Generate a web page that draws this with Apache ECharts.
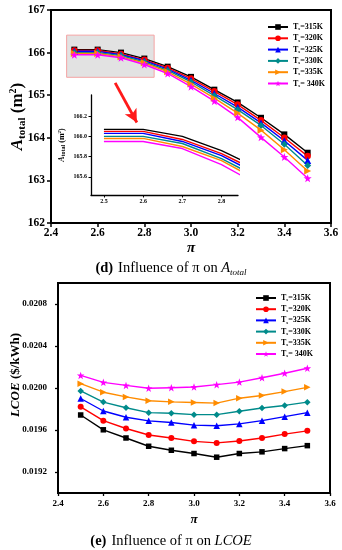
<!DOCTYPE html>
<html><head><meta charset="utf-8">
<script src="https://cdn.jsdelivr.net/npm/echarts@6/dist/echarts.min.js"></script>
<style>html,body{margin:0;padding:0;background:#fff}#c{width:342px;height:550px}</style>
</head><body><div id="c"></div>
<script>
// ---- data ----
const piValues = [2.5, 2.6, 2.7, 2.8, 2.9, 3.0, 3.1, 3.2, 3.3, 3.4, 3.5];
const seriesNames = ['Ts=315K', 'Ts=320K', 'Ts=325K', 'Ts=330K', 'Ts=335K', 'Ts= 340K'];
const legendSuffix = ['=315K', '=320K', '=325K', '=330K', '=335K', '= 340K'];
// A_total (m2)
const A315 = [166.07, 166.07, 166.00, 165.86, 165.67, 165.43, 165.13, 164.83, 164.47, 164.08, 163.65];
const A320 = [166.05, 166.05, 165.97, 165.83, 165.64, 165.39, 165.09, 164.78, 164.41, 164.00, 163.57];
const A325 = [166.03, 166.03, 165.95, 165.81, 165.61, 165.35, 165.04, 164.72, 164.35, 163.93, 163.47];
const A330 = [166.00, 166.00, 165.93, 165.78, 165.58, 165.31, 164.99, 164.66, 164.29, 163.85, 163.35];
const A335 = [165.98, 165.98, 165.90, 165.76, 165.55, 165.26, 164.93, 164.58, 164.18, 163.72, 163.22];
const A340 = [165.95, 165.95, 165.88, 165.72, 165.51, 165.20, 164.86, 164.48, 164.01, 163.55, 163.05];
// LCOE ($/kWh)
const L315 = [0.019743, 0.019602, 0.019524, 0.019445, 0.019407, 0.019376, 0.019341, 0.019376, 0.019392, 0.019423, 0.019451];
const L320 = [0.019821, 0.019689, 0.019614, 0.019552, 0.019524, 0.019492, 0.019477, 0.019495, 0.019524, 0.019561, 0.019592];
const L325 = [0.019900, 0.019781, 0.019721, 0.019687, 0.019671, 0.019646, 0.019640, 0.019658, 0.019689, 0.019727, 0.019765];
const L330 = [0.019972, 0.019866, 0.019812, 0.019765, 0.019759, 0.019746, 0.019746, 0.019778, 0.019809, 0.019834, 0.019865];
const L335 = [0.020041, 0.019960, 0.019915, 0.019878, 0.019868, 0.019862, 0.019856, 0.019903, 0.019928, 0.019966, 0.020006];
const L340 = [0.020120, 0.020054, 0.020025, 0.019997, 0.020003, 0.020009, 0.020032, 0.020056, 0.020098, 0.020141, 0.020188];
// ticks
const insetXTicks = [2.5, 2.6, 2.7, 2.8];
const insetYTicks = [165.6, 165.8, 166.0, 166.2];
const botYTicks = [0.0192, 0.0196, 0.0200, 0.0204, 0.0208];
// zoom window
const zoomBox = [[2.467, 166.41], [2.842, 165.42]];
const arrow = [[2.675, 165.29], [2.768, 164.36]];

const Aall = [A315, A320, A325, A330, A335, A340];
const Lall = [L315, L320, L325, L330, L335, L340];
const colors = ['#000000', '#ff0000', '#0000ff', '#008b8b', '#ff8c00', '#ff00ff'];
const STAR = 'path://M0,-10L2.35,-3.24L9.51,-3.09L3.8,1.24L5.88,8.09L0,4L-5.88,8.09L-3.8,1.24L-9.51,-3.09L-2.35,-3.24Z';
const symbols = ['rect', 'circle', 'triangle', 'diamond', 'triangle', STAR];
const rotates = [0, 0, 0, 0, -90, 0];
const symSizes = [6, 6.5, 7, 7, 7, 8];
const F = 'Liberation Serif';

const chart = echarts.init(document.getElementById('c'), null, {renderer: 'canvas'});

function pairs(arr) { return piValues.map((x, i) => [x, arr[i]]); }

const series = [];
series.push({
  type: 'line', xAxisIndex: 0, yAxisIndex: 0, data: [], z: 1, silent: true,
  markArea: {silent: true, itemStyle: {color: '#e2e2e2', borderColor: '#f4a3a3', borderWidth: 1},
    data: [[{coord: zoomBox[0]}, {coord: zoomBox[1]}]]},
  markLine: {silent: true, symbol: ['none', 'arrow'], symbolSize: [10, 13],
    lineStyle: {color: '#ff1a1a', width: 2.8, type: 'solid'}, label: {show: false},
    data: [[{coord: arrow[0]}, {coord: arrow[1]}]]}
});
Aall.forEach((arr, k) => series.push({
  name: seriesNames[k], type: 'line', xAxisIndex: 0, yAxisIndex: 0, z: 3,
  data: pairs(arr), symbol: symbols[k], symbolRotate: rotates[k], symbolSize: symSizes[k],
  itemStyle: {color: colors[k]}, lineStyle: {color: colors[k], width: 1.4}
}));
Aall.forEach((arr, k) => series.push({
  name: seriesNames[k], type: 'line', xAxisIndex: 1, yAxisIndex: 1, z: 3,
  data: pairs(arr), showSymbol: false, clip: true,
  itemStyle: {color: colors[k]}, lineStyle: {color: colors[k], width: 1.4}
}));
Lall.forEach((arr, k) => series.push({
  name: seriesNames[k], type: 'line', xAxisIndex: 2, yAxisIndex: 2, z: 3,
  data: pairs(arr), symbol: symbols[k], symbolRotate: rotates[k], symbolSize: symSizes[k] - 0.5,
  itemStyle: {color: colors[k]}, lineStyle: {color: colors[k], width: 1.4}
}));

const legendRich = {
  t: {fontFamily: F, fontWeight: 'bold', fontSize: 8, lineHeight: 9, verticalAlign: 'middle', color: '#000'},
  s: {fontFamily: F, fontWeight: 'bold', fontSize: 5, lineHeight: 4, verticalAlign: 'bottom', color: '#000'}
};
function legendFmt(n) { const k = seriesNames.indexOf(n); return '{t|T}{s|s}{t|' + legendSuffix[k] + '}'; }

const axisLine = {show: true, lineStyle: {color: '#000', width: 2}};
const smallAxisLine = {show: true, lineStyle: {color: '#000', width: 1.3}};

const option = {
  animation: false,
  backgroundColor: '#fff',
  grid: [
    {left: 51, top: 10, width: 280, height: 213, show: true, borderColor: '#000', borderWidth: 2, backgroundColor: 'transparent', containLabel: false, outerBoundsMode: 'none'},
    {left: 91, top: 95, width: 147, height: 100, show: false, containLabel: false, outerBoundsMode: 'none'},
    {left: 58, top: 283, width: 272, height: 210, show: true, borderColor: '#000', borderWidth: 2, backgroundColor: 'transparent', containLabel: false, outerBoundsMode: 'none'}
  ],
  legend: [
    {orient: 'vertical', left: 262, top: 18, itemWidth: 20, itemHeight: 7, itemGap: 2.8,
     data: seriesNames, formatter: legendFmt, textStyle: {fontSize: 8, fontFamily: F, fontWeight: 'bold', rich: legendRich}, selectedMode: false},
    {orient: 'vertical', left: 250, top: 289, itemWidth: 20, itemHeight: 7, itemGap: 2.7,
     data: seriesNames, formatter: legendFmt, textStyle: {fontSize: 8, fontFamily: F, fontWeight: 'bold', rich: legendRich}, selectedMode: false}
  ],
  xAxis: [
    {type: 'value', gridIndex: 0, min: 2.4, max: 3.6, interval: 0.2,
     axisLine: axisLine, splitLine: {show: false},
     axisTick: {show: true, inside: false, length: 4, lineStyle: {width: 1.5}},
     axisLabel: {fontFamily: F, fontWeight: 'bold', fontSize: 11.5, color: '#000', margin: 4,
       formatter: v => v.toFixed(1)},
     name: 'π', nameLocation: 'middle', nameGap: 18, nameMoveOverlap: false,
     nameTextStyle: {fontFamily: F, fontWeight: 'bold', fontStyle: 'italic', fontSize: 15, color: '#000'}},
    {type: 'value', gridIndex: 1, min: 2.467, max: 2.842,
     axisLine: smallAxisLine, splitLine: {show: false},
     axisTick: {show: true, length: 2.5, customValues: insetXTicks, lineStyle: {width: 1}},
     axisLabel: {fontFamily: F, fontWeight: 'bold', fontSize: 6, color: '#000', margin: 3,
       customValues: insetXTicks, formatter: v => v.toFixed(1)}},
    {type: 'value', gridIndex: 2, min: 2.4, max: 3.6, interval: 0.2,
     axisLine: axisLine, splitLine: {show: false},
     axisTick: {show: true, length: 3, lineStyle: {width: 1.3}},
     axisLabel: {fontFamily: F, fontWeight: 'bold', fontSize: 9, color: '#000', margin: 6,
       formatter: v => v.toFixed(1)},
     name: 'π', nameLocation: 'middle', nameGap: 20, nameMoveOverlap: false,
     nameTextStyle: {fontFamily: F, fontWeight: 'bold', fontStyle: 'italic', fontSize: 13, color: '#000'}}
  ],
  yAxis: [
    {type: 'value', gridIndex: 0, min: 162, max: 167, interval: 1,
     axisLine: axisLine, splitLine: {show: false},
     axisTick: {show: true, length: 4, lineStyle: {width: 1.5}},
     axisLabel: {fontFamily: F, fontWeight: 'bold', fontSize: 11.5, color: '#000', margin: 6},
     name: '{a|A}{s|total}{b| (m}{p|2}{b|)}', nameLocation: 'middle', nameGap: 23, nameMoveOverlap: false,
     nameTextStyle: {color: '#000', rich: {
       a: {fontFamily: F, fontWeight: 'bold', fontStyle: 'italic', fontSize: 17, lineHeight: 20, verticalAlign: 'middle'},
       s: {fontFamily: F, fontWeight: 'bold', fontSize: 11, lineHeight: 10, verticalAlign: 'bottom'},
       b: {fontFamily: F, fontWeight: 'bold', fontSize: 17, lineHeight: 20, verticalAlign: 'middle'},
       p: {fontFamily: F, fontWeight: 'bold', fontSize: 10, lineHeight: 10, verticalAlign: 'top'}}}},
    {type: 'value', gridIndex: 1, min: 165.42, max: 166.41,
     axisLine: smallAxisLine, splitLine: {show: false},
     axisTick: {show: true, length: 2.5, customValues: insetYTicks, lineStyle: {width: 1}},
     axisLabel: {fontFamily: F, fontWeight: 'bold', fontSize: 6, color: '#000', margin: 4,
       customValues: insetYTicks, formatter: v => v.toFixed(1)},
     name: '{a|A}{s|total}{b| (m}{p|2}{b|)}', nameLocation: 'middle', nameGap: 25,
     nameTextStyle: {color: '#000', rich: {
       a: {fontFamily: F, fontWeight: 'bold', fontStyle: 'italic', fontSize: 8, lineHeight: 9, verticalAlign: 'middle'},
       s: {fontFamily: F, fontWeight: 'bold', fontSize: 6, lineHeight: 5, verticalAlign: 'bottom'},
       b: {fontFamily: F, fontWeight: 'bold', fontSize: 8, lineHeight: 9, verticalAlign: 'middle'},
       p: {fontFamily: F, fontWeight: 'bold', fontSize: 5, lineHeight: 5, verticalAlign: 'top'}}}},
    {type: 'value', gridIndex: 2, min: 0.0190, max: 0.0210,
     axisLine: axisLine, splitLine: {show: false},
     axisTick: {show: true, length: 3, customValues: botYTicks, lineStyle: {width: 1.3}},
     axisLabel: {fontFamily: F, fontWeight: 'bold', fontSize: 9, color: '#000', margin: 11,
       customValues: botYTicks, formatter: v => v.toFixed(4)},
     name: '{i|LCOE} {b|($/kWh)}', nameLocation: 'middle', nameGap: 36, nameMoveOverlap: false,
     nameTextStyle: {color: '#000', padding: [0, 0, 0, 26], rich: {
       i: {fontFamily: F, fontWeight: 'bold', fontStyle: 'italic', fontSize: 13},
       b: {fontFamily: F, fontWeight: 'bold', fontSize: 13}}}}
  ],
  title: [
    {left: 'center', top: 254, text: '{b|(d)} {r|Influence of π on }{i|A}{s|total}',
     textStyle: {rich: {
       b: {fontFamily: F, fontWeight: 'bold', fontSize: 14.5, color: '#000', lineHeight: 16, verticalAlign: 'middle'},
       r: {fontFamily: F, fontWeight: 'normal', fontSize: 14.5, color: '#000', lineHeight: 16, verticalAlign: 'middle'},
       i: {fontFamily: F, fontWeight: 'normal', fontStyle: 'italic', fontSize: 14.5, color: '#000', lineHeight: 16, verticalAlign: 'middle'},
       s: {fontFamily: F, fontWeight: 'normal', fontStyle: 'italic', fontSize: 9, color: '#000', lineHeight: 8, verticalAlign: 'bottom'}}}},
    {left: 'center', top: 527, text: '{b|(e)} {r|Influence of π on }{i|LCOE}',
     textStyle: {rich: {
       b: {fontFamily: F, fontWeight: 'bold', fontSize: 14.5, color: '#000'},
       r: {fontFamily: F, fontWeight: 'normal', fontSize: 14.5, color: '#000'},
       i: {fontFamily: F, fontWeight: 'normal', fontStyle: 'italic', fontSize: 14.5, color: '#000'}}}}
  ],
  series: series
};
chart.setOption(option);
</script></body></html>
